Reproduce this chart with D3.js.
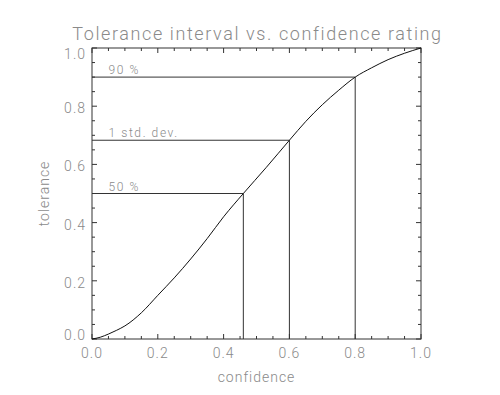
<!DOCTYPE html>
<html>
<head>
<meta charset="utf-8">
<script src="https://cdn.jsdelivr.net/npm/d3@7"></script>
<style>
  body { margin: 0; background: #fff; }
  text { font-family: Roboto, "DejaVu Sans", sans-serif; font-weight: 300; fill: #8a8a8a; }
</style>
</head>
<body>
<div id="chart"></div>
<script>
// curve
var confidence = [0, 0.025, 0.05, 0.075, 0.1, 0.15, 0.2, 0.25, 0.3, 0.35, 0.4, 0.46, 0.53, 0.6, 0.65, 0.7, 0.75, 0.8, 0.85, 0.9, 0.95, 1.0];
var tolerance  = [0, 0.006, 0.017, 0.03, 0.045, 0.09, 0.15, 0.21, 0.275, 0.345, 0.42, 0.5, 0.59, 0.683, 0.748, 0.805, 0.855, 0.9, 0.932, 0.96, 0.982, 1.0];

// marked levels
var levelNames = ["50 %", "1 std. dev.", "90 %"];
var levelConf  = [0.46, 0.6, 0.8];
var levelTol   = [0.5, 0.683, 0.9];

var tickValues = [0, 0.2, 0.4, 0.6, 0.8, 1.0];
var minorTicks = d3.range(0, 1.0001, 0.05);

function draw_chart(lugar)
{
  "use strict";

  var width = 500,
    height = 395,
    left = 92, right = 421,
    top = 48, bottom = 339;

  var svg = d3.select(lugar)
    .append("svg")
      .attr("width", width)
      .attr("height", height);

  var x = d3.scaleLinear().domain([0, 1]).range([left, right]);
  var y = d3.scaleLinear().domain([0, 1]).range([bottom, top]);

  var stroke = "#333";

  // box
  svg.append("rect")
    .attr("x", left).attr("y", top)
    .attr("width", right - left).attr("height", bottom - top)
    .attr("fill", "none").attr("stroke", stroke).attr("stroke-width", 1);

  // ticks, all four sides, pointing in
  var g = svg.append("g").attr("stroke", stroke).attr("stroke-width", 1);
  minorTicks.forEach(function(v, i){
    var len = (i % 4 === 0) ? 5 : 3;
    g.append("line").attr("x1", x(v)).attr("x2", x(v)).attr("y1", bottom).attr("y2", bottom - len);
    g.append("line").attr("x1", x(v)).attr("x2", x(v)).attr("y1", top).attr("y2", top + len);
    g.append("line").attr("y1", y(v)).attr("y2", y(v)).attr("x1", left).attr("x2", left + len);
    g.append("line").attr("y1", y(v)).attr("y2", y(v)).attr("x1", right).attr("x2", right - len);
  });

  // tick labels
  svg.selectAll(".xl").data(tickValues).enter().append("text")
    .attr("x", function(d){ return x(d); })
    .attr("y", bottom + 19)
    .attr("text-anchor", "middle")
    .style("font-size", "14px")
    .style("letter-spacing", "1px")
    .text(function(d){ return d.toFixed(1); });

  svg.selectAll(".yl").data(tickValues).enter().append("text")
    .attr("x", left - 6)
    .attr("y", function(d, i){
      var off = 7;
      if (i === 0) off = 1;
      if (i === tickValues.length - 1) off = 11;
      return y(d) + off;
    })
    .attr("text-anchor", "end")
    .style("font-size", "14px")
    .style("letter-spacing", "1px")
    .text(function(d){ return d.toFixed(1); });

  // reference lines
  var ref = svg.append("g").attr("stroke", stroke).attr("stroke-width", 1).attr("fill", "none");
  levelNames.forEach(function(name, i){
    ref.append("line")
      .attr("x1", x(0)).attr("x2", x(levelConf[i]))
      .attr("y1", y(levelTol[i])).attr("y2", y(levelTol[i]));
    ref.append("line")
      .attr("x1", x(levelConf[i])).attr("x2", x(levelConf[i]))
      .attr("y1", y(levelTol[i])).attr("y2", y(0));
    svg.append("text")
      .attr("x", x(0.05))
      .attr("y", y(levelTol[i]) - 3)
      .style("font-size", "12px")
      .style("letter-spacing", "1.6px")
      .text(name);
  });

  // curve
  var pts = confidence.map(function(c, i){ return [c, tolerance[i]]; });
  var line = d3.line()
    .x(function(d){ return x(d[0]); })
    .y(function(d){ return y(d[1]); })
    .curve(d3.curveMonotoneX);
  svg.append("path")
    .attr("d", line(pts))
    .attr("fill", "none")
    .attr("stroke", "#111")
    .attr("stroke-width", 1);

  // titles
  svg.append("text")
    .attr("x", (left + right) / 2 + 1)
    .attr("y", 40)
    .attr("text-anchor", "middle")
    .style("font-size", "18px")
    .style("letter-spacing", "1.6px")
    .text("Tolerance interval vs. confidence rating");

  svg.append("text")
    .attr("x", (left + right) / 2)
    .attr("y", 382)
    .attr("text-anchor", "middle")
    .style("font-size", "14px")
    .style("letter-spacing", "1px")
    .text("confidence");

  svg.append("text")
    .attr("transform", "translate(49," + ((top + bottom) / 2) + ") rotate(-90)")
    .attr("text-anchor", "middle")
    .style("font-size", "14px")
    .style("letter-spacing", "1px")
    .text("tolerance");
}

draw_chart("#chart");
</script>
</body>
</html>
